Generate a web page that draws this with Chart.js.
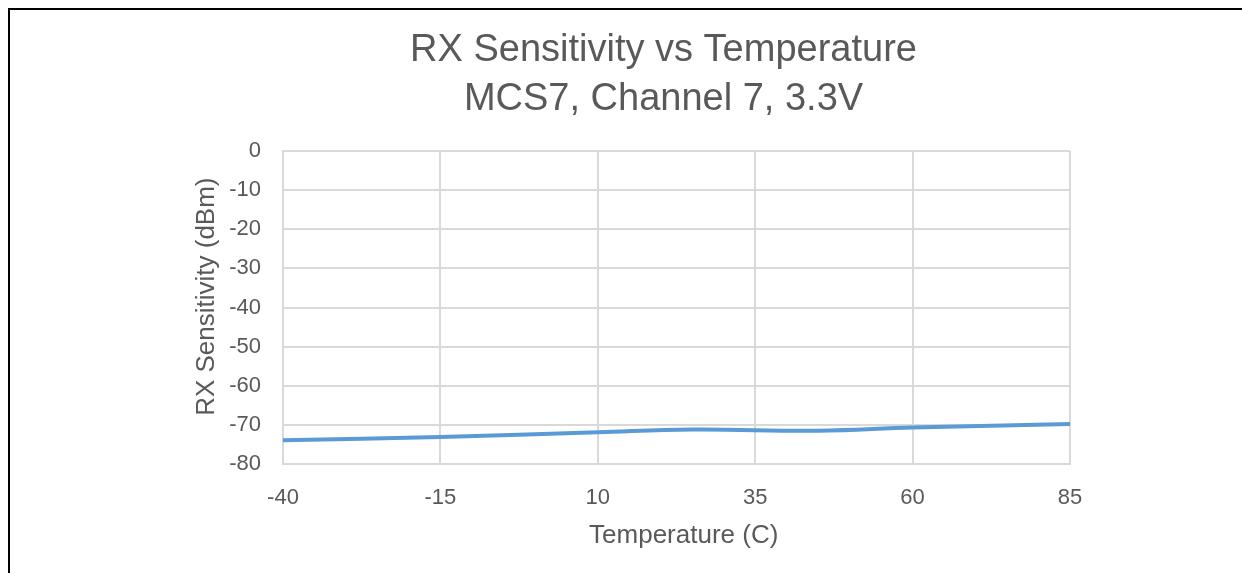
<!DOCTYPE html>
<html lang="en">
<head>
    <meta charset="UTF-8">
    <title>RX Sensitivity vs Temperature</title>
    <script src="https://cdn.jsdelivr.net/npm/chart.js"></script>
    <style>
        html, body { margin: 0; padding: 0; background: #fff; overflow: hidden; }
        .frame {
            position: absolute; left: 8px; top: 8px;
            width: 1400px; height: 800px;
            border-left: 2px solid #000; border-top: 2px solid #000;
        }
        .chart-box { position: absolute; left: 0; top: 0; width: 1242px; height: 573px; }
    </style>
</head>
<body>
    <div class="frame"></div>
    <div class="chart-box">
        <canvas id="rxChart" width="1242" height="573"></canvas>
    </div>

    <script>
        // values
        const temperatures = [-40, -15, 10, 25, 45, 60, 85];
        const sensitivity = [-73.9, -73.1, -71.9, -71.2, -71.5, -70.7, -69.8];
        const titleLines = ['RX Sensitivity vs Temperature', 'MCS7, Channel 7, 3.3V'];

        const textColor = '#595959';
        const gridColor = '#d9d9d9';
        const fontFamily = '"Liberation Sans", Arial, sans-serif';

        const points = temperatures.map((t, i) => ({ x: t, y: sensitivity[i] }));

        const ctx = document.getElementById('rxChart').getContext('2d');
        new Chart(ctx, {
            type: 'scatter',
            data: {
                datasets: [{
                    label: 'RX Sensitivity',
                    data: points,
                    showLine: true,
                    borderColor: '#5b9bd5',
                    borderWidth: 4,
                    pointRadius: 0,
                    tension: 0.4,
                    fill: false
                }]
            },
            options: {
                responsive: false,
                animation: false,
                layout: { padding: { left: 85, right: 0, top: 0, bottom: 0 } },
                plugins: {
                    legend: { display: false },
                    tooltip: { enabled: false },
                    title: {
                        display: true,
                        text: titleLines,
                        color: textColor,
                        font: { family: fontFamily, size: 38, weight: 'normal', lineHeight: 1.29 },
                        padding: { top: 26, bottom: 27 }
                    }
                },
                scales: {
                    x: {
                        type: 'linear',
                        min: -40,
                        max: 85,
                        afterFit: (scale) => { scale.height = 109; },
                        ticks: {
                            stepSize: 25,
                            color: textColor,
                            padding: 21,
                            font: { family: fontFamily, size: 22 }
                        },
                        grid: { color: gridColor, lineWidth: 2, drawTicks: false },
                        border: { color: gridColor, width: 2 },
                        title: {
                            display: true,
                            text: '  Temperature (C)',
                            color: textColor,
                            font: { family: fontFamily, size: 26 },
                            padding: { top: 0, bottom: 22 }
                        }
                    },
                    y: {
                        min: -80,
                        max: 0,
                        afterFit: (scale) => { scale.width = 198; },
                        ticks: {
                            stepSize: 10,
                            color: textColor,
                            padding: 22,
                            font: { family: fontFamily, size: 22 }
                        },
                        grid: { color: gridColor, lineWidth: 2, drawTicks: false },
                        border: { color: gridColor, width: 2 },
                        title: {
                            display: true,
                            text: '   RX Sensitivity (dBm)',
                            color: textColor,
                            font: { family: fontFamily, size: 26 },
                            padding: { top: 106, bottom: 0 }
                        }
                    },
                    // empty right-hand axis, only reserves the space right of the plot
                    spacer: {
                        position: 'right',
                        min: 0,
                        max: 1,
                        afterFit: (scale) => { scale.width = 172; },
                        ticks: { display: false },
                        grid: { display: false },
                        border: { display: false }
                    }
                }
            }
        });
    </script>
</body>
</html>
